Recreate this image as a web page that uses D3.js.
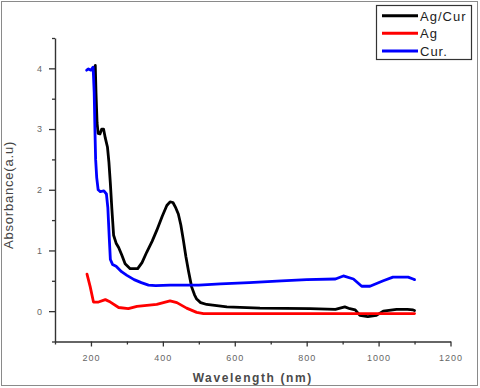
<!DOCTYPE html>
<html>
<head>
<meta charset="utf-8">
<script src="https://cdn.jsdelivr.net/npm/d3@7"></script>
<style>
body{margin:0;background:#fff;}
svg{display:block;font-family:"Liberation Sans",Arial,sans-serif;}
</style>
</head>
<body>
<svg width="480" height="388"></svg>
<script>
// data
var agCurX = [212,214,217,220,225,230,235,240,246,250,254,258,263,270,277,286,295,309,330,342,355,370,383,398,411,420,428,436,443,450,457,464,471,480,488,494,505,522,550,578,670,810,880,906,920,935,948,970,994,1013,1050,1080,1096,1100];
var agCurY = [4.05,3.6,3.1,2.93,2.92,3.0,3.0,2.85,2.7,2.45,2.1,1.7,1.25,1.12,1.05,0.92,0.78,0.70,0.70,0.8,0.97,1.15,1.33,1.56,1.74,1.8,1.79,1.7,1.6,1.42,1.17,0.9,0.67,0.4,0.27,0.2,0.14,0.11,0.09,0.07,0.05,0.04,0.03,0.07,0.04,0.02,-0.07,-0.09,-0.07,0.0,0.03,0.03,0.02,0.01];
var agX = [189,198,207,221,240,254,277,304,328,383,420,439,466,494,513,1100];
var agY = [0.61,0.40,0.15,0.15,0.19,0.15,0.06,0.04,0.08,0.11,0.17,0.14,0.05,-0.02,-0.04,-0.04];
var curX = [188,193,200,206,209,211,213,216,220,226,236,243,247,251,254,260,270,285,300,320,340,360,380,420,500,560,640,730,800,880,902,930,953,976,1013,1040,1082,1096,1100];
var curY = [3.97,3.99,3.97,4.02,3.6,3.0,2.5,2.2,2.0,1.97,1.98,1.93,1.7,1.2,0.85,0.77,0.74,0.65,0.59,0.52,0.47,0.43,0.42,0.43,0.43,0.45,0.47,0.5,0.52,0.53,0.58,0.53,0.41,0.41,0.5,0.56,0.56,0.53,0.52];

var seriesNames = ["Ag/Cur","Ag","Cur."];
var seriesColors = ["#000000","#ff0000","#0000ff"];
var xTicks = [200,400,600,800,1000,1200];
var xMinor = [100,300,500,700,900,1100];
var yTicks = [0,1,2,3,4];
var yMinor = [-0.5,0.5,1.5,2.5,3.5,4.5];

var svg = d3.select("svg");
var marge = {top:38,bottom:46,left:55,right:30};
var width = +svg.attr("width");
var height = +svg.attr("height");

// outer frame
svg.append("rect")
	.attr("x",1.5).attr("y",1.5)
	.attr("width",476).attr("height",384)
	.attr("fill","none").attr("stroke","#8a8a8a").attr("stroke-width",1);

var xScale = d3.scaleLinear().domain([100,1200]).range([marge.left,450.5]);
var yScale = d3.scaleLinear().domain([-0.5,4.5]).range([341.5,marge.top]);

var g = svg.append("g");

// minor ticks first (no labels)
g.append("g")
	.attr("transform","translate(0,"+yScale(-0.5)+")")
	.call(d3.axisBottom(xScale).tickValues(xMinor).tickSize(3).tickFormat(""))
	.call(function(a){a.select(".domain").remove();});
g.append("g")
	.attr("transform","translate("+xScale(100)+",0)")
	.call(d3.axisLeft(yScale).tickValues(yMinor).tickSize(3).tickFormat(""))
	.call(function(a){a.select(".domain").remove();});

var xAxis = g.append("g")
	.attr("transform","translate(0,"+yScale(-0.5)+")")
	.call(d3.axisBottom(xScale).tickValues(xTicks).tickSize(5).tickSizeOuter(0).tickPadding(8).tickFormat(d3.format("d")));
var yAxis = g.append("g")
	.attr("transform","translate("+xScale(100)+",0)")
	.call(d3.axisLeft(yScale).tickValues(yTicks).tickSize(6).tickSizeOuter(0).tickPadding(6).tickFormat(d3.format("d")));

g.selectAll(".tick line").attr("stroke","#333").attr("stroke-width",1.3);
g.selectAll(".domain").attr("stroke","#333").attr("stroke-width",1.4);
g.selectAll(".tick text")
	.attr("fill","#666")
	.style("font-size","9px")
	.style("letter-spacing","1px")
	.style("font-family","'Liberation Sans',Arial,sans-serif");

// axis titles
svg.append("text")
	.attr("x",(xScale(100)+xScale(1200))/2)
	.attr("y",382)
	.attr("text-anchor","middle")
	.attr("fill","#4a4a4a")
	.style("font-size","12px")
	.style("font-weight","bold")
	.style("letter-spacing","1.6px")
	.text("Wavelength (nm)");
svg.append("text")
	.attr("transform","translate(12.5,195) rotate(-90)")
	.attr("text-anchor","middle")
	.attr("fill","#444")
	.style("font-size","13px")
	.style("letter-spacing","0.8px")
	.text("Absorbance(a.u)");

// curves
var line = d3.line()
	.x(function(d){return xScale(d[0]);})
	.y(function(d){return yScale(d[1]);});
var allX = [agCurX,agX,curX];
var allY = [agCurY,agY,curY];
var seriesData = allX.map(function(xs,i){
	return xs.map(function(x,j){return [x,allY[i][j]];});
});
svg.append("g").selectAll("path")
	.data(seriesData)
	.enter()
	.append("path")
	.attr("d",line)
	.attr("fill","none")
	.attr("stroke",function(d,i){return seriesColors[i];})
	.attr("stroke-width",2.8)
	.attr("stroke-linejoin","round")
	.attr("stroke-linecap","round");

// legend
var lg = svg.append("g");
lg.append("rect")
	.attr("x",376.5).attr("y",5.5)
	.attr("width",95).attr("height",54)
	.attr("fill","#fff").attr("stroke","#333").attr("stroke-width",1.2);
var items = lg.selectAll(".item")
	.data(seriesNames)
	.enter()
	.append("g")
	.attr("transform",function(d,i){return "translate(0,"+(15.7+i*17.6)+")";});
items.append("line")
	.attr("x1",382).attr("x2",418)
	.attr("stroke",function(d,i){return seriesColors[i];})
	.attr("stroke-width",3);
items.append("text")
	.attr("x",420)
	.attr("y",4.8)
	.attr("fill","#222")
	.style("font-size","13px")
	.style("letter-spacing","1px")
	.text(function(d){return d;});
</script>
</body>
</html>
